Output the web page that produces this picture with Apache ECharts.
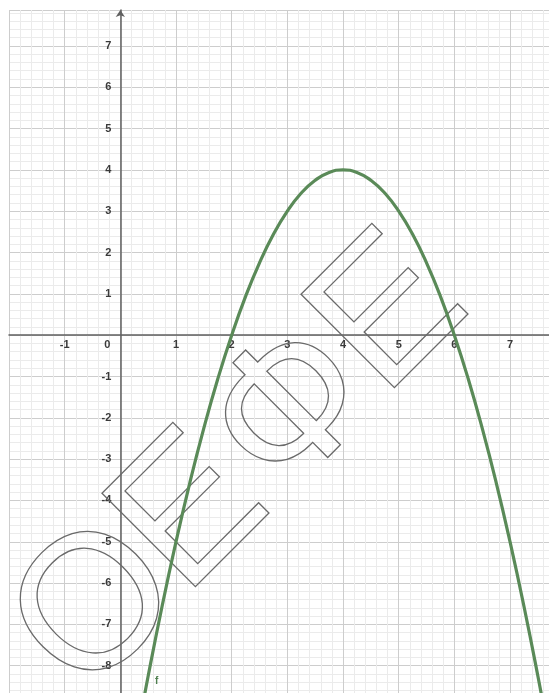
<!DOCTYPE html>
<html>
<head>
<meta charset="utf-8">
<script src="https://cdn.jsdelivr.net/npm/echarts@6/dist/echarts.min.js"></script>
<style>
  html, body { margin: 0; padding: 0; background: #fff; }
  #chart { width: 549px; height: 693px; }
</style>
</head>
<body>
<div id="chart"></div>
<script>
const curveX = [0.3, 0.5, 0.75, 1, 1.25, 1.5, 1.75, 2, 2.25, 2.5, 2.75, 3, 3.25, 3.5, 3.75, 4,
  4.25, 4.5, 4.75, 5, 5.25, 5.5, 5.75, 6, 6.25, 6.5, 6.75, 7, 7.25, 7.5, 7.7];
const curveY = [-9.69, -8.25, -6.56, -5, -3.56, -2.25, -1.06, 0, 0.94, 1.75, 2.44, 3, 3.44, 3.75, 3.94, 4,
  3.94, 3.75, 3.44, 3, 2.44, 1.75, 0.94, 0, -1.06, -2.25, -3.56, -5, -6.56, -8.25, -9.69];
const xRange = [-2, 7.7];
const yRange = [-8.66, 7.87];
const curveName = 'f';
const watermark = ['О', 'Е', 'Ф', 'Е'];
const watermarkPos = [[99, 610], [192, 515], [296, 413], [391, 316]];

const W = 549, H = 693;
const gridBox = { left: 9, right: 0, top: 10, bottom: 0 };
// put the axes (line + labels) through the origin
const gw = W - gridBox.left - gridBox.right;
const gh = H - gridBox.top - gridBox.bottom;
const x0 = gridBox.left + (0 - xRange[0]) / (xRange[1] - xRange[0]) * gw;
const y0 = gridBox.top + (yRange[1] - 0) / (yRange[1] - yRange[0]) * gh;

const chart = echarts.init(document.getElementById('chart'));

const labelStyle = {
  color: '#3a3a3a',
  fontSize: 11,
  fontWeight: 'bold',
  fontFamily: 'Liberation Sans'
};

const option = {
  animation: false,
  grid: gridBox,
  xAxis: {
    type: 'value',
    min: xRange[0],
    max: xRange[1],
    interval: 1,
    position: 'bottom',
    offset: -(H - gridBox.bottom - y0),
    axisLine: { onZero: false, lineStyle: { color: '#606060', width: 1.5 } },
    axisTick: { show: false },
    minorTick: { show: false, splitNumber: 5 },
    splitLine: { show: true, lineStyle: { color: '#cdcdcd', width: 1 } },
    minorSplitLine: { show: true, lineStyle: { color: '#ebebeb', width: 1 } },
    axisLabel: Object.assign({}, labelStyle, {
      margin: 4,
      showMinLabel: false,
      showMaxLabel: false,
      formatter: v => v === 0 ? '{z|0}' : (Number.isInteger(v) ? String(v) : ''),
      rich: { z: Object.assign({}, labelStyle, { padding: [0, 26, 0, 0] }) }
    })
  },
  yAxis: {
    type: 'value',
    min: yRange[0],
    max: yRange[1],
    minInterval: 1,
    maxInterval: 1,
    splitNumber: 16,
    position: 'left',
    offset: -(x0 - gridBox.left),
    axisLine: {
      onZero: false,
      symbol: ['none', 'arrow'],
      symbolSize: [7, 7],
      lineStyle: { color: '#606060', width: 1.5 }
    },
    axisTick: { show: false },
    minorTick: { show: false, splitNumber: 5 },
    splitLine: { show: true, lineStyle: { color: '#cdcdcd', width: 1 } },
    minorSplitLine: { show: true, lineStyle: { color: '#ebebeb', width: 1 } },
    axisLabel: Object.assign({}, labelStyle, {
      margin: 9,
      formatter: v => (v === 0 || !Number.isInteger(v)) ? '' : String(v)
    })
  },
  graphic: watermark.map((ch, i) => ({
    type: 'text',
    x: watermarkPos[i][0],
    y: watermarkPos[i][1],
    rotation: Math.PI / 4,
    z: 1,
    silent: true,
    style: {
      text: ch,
      font: '192px "Liberation Sans"',
      align: 'center',
      verticalAlign: 'middle',
      fill: 'rgba(0,0,0,0)',
      stroke: '#6a6a6a',
      lineWidth: 1.3
    }
  })).concat([{
    type: 'text',
    left: 155,
    top: 676,
    z: 3,
    style: { text: curveName, fill: '#4f7f4f', font: 'bold 10px "Liberation Sans"' }
  }]),
  series: [{
    name: curveName,
    type: 'line',
    data: curveX.map((x, i) => [x, curveY[i]]),
    smooth: true,
    showSymbol: false,
    clip: true,
    z: 5,
    lineStyle: { color: '#5a8a58', width: 3.2 }
  }]
};
chart.setOption(option);
</script>
</body>
</html>
